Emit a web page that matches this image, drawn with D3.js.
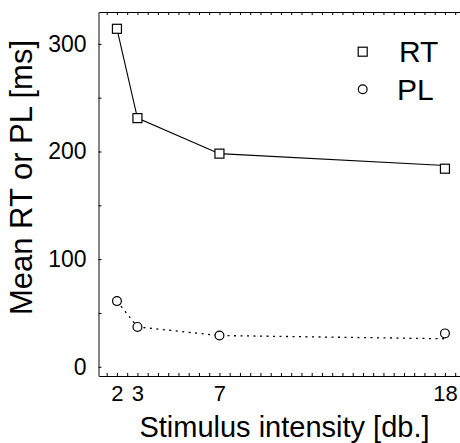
<!DOCTYPE html>
<html>
<head>
<meta charset="utf-8">
<script src="https://cdn.jsdelivr.net/npm/d3@7"></script>
<style>
  body { margin: 0; background: #fff; }
  svg { display: block; font-family: "Liberation Sans", Arial, sans-serif; }
</style>
</head>
<body>
<div id="chart"></div>
<script>
// stimulus intensities (db.)
const intensities = [2, 3, 7, 18];
// marker values (ms)
const rtMarks = [314, 231, 198, 184];
const plMarks = [61, 37, 29, 31];
// connecting lines (end points drawn slightly off the last markers in the original)
const rtLine = [314, 231, 198, 187];
const plLine = [61, 37, 29, 26];
const xTickLabels = [2, 3, 7, 18];
const yTickLabels = [0, 100, 200, 300];
const legendItems = ["RT", "PL"];

const W = 460, H = 443;
const svg = d3.select("#chart").append("svg").attr("width", W).attr("height", H);
svg.append("rect").attr("width", W).attr("height", H).attr("fill", "#fff");

// plot box, right edge runs past the image
const boxLeft = 98.5, boxTop = 12, boxBottom = 376;
const x = d3.scaleLinear().domain([1.1, 19]).range([boxLeft, boxLeft + 17.9 * 20.5]);
const y = d3.scaleLinear().domain([-8.6, 329.6]).range([boxBottom, boxTop]);

const minorX = d3.range(1.5, 19.01, 0.5);

// top axis, ticks pointing in
svg.append("g").attr("transform", `translate(0,${boxTop})`)
  .call(d3.axisTop(x).tickValues(minorX).tickSize(-3).tickSizeOuter(0).tickFormat(""))
  .call(g => g.selectAll("line,path").attr("stroke", "#000"));

// bottom axis
svg.append("g").attr("transform", `translate(0,${boxBottom})`)
  .call(d3.axisBottom(x).tickValues(minorX).tickSize(-3).tickSizeOuter(0).tickFormat(""))
  .call(g => g.selectAll("line,path").attr("stroke", "#000"));

svg.append("g").attr("transform", `translate(0,${boxBottom})`)
  .call(d3.axisBottom(x).tickValues(xTickLabels).tickSize(0).tickPadding(9))
  .call(g => g.select(".domain").remove())
  .call(g => g.selectAll("text").attr("font-size", 22).attr("font-family", null).attr("fill", "#000"));

// left axis
svg.append("g").attr("transform", `translate(${boxLeft},0)`)
  .call(d3.axisLeft(y).tickValues(d3.range(0, 301, 50)).tickSize(-3).tickSizeOuter(0).tickPadding(12)
    .tickFormat(d => yTickLabels.includes(d) ? d : ""))
  .call(g => g.select(".domain").attr("stroke", "#666").attr("stroke-width", 1.6))
  .call(g => g.selectAll(".tick line").attr("stroke", "#000"))
  .call(g => g.selectAll("text").attr("font-size", 23).attr("font-family", null).attr("fill", "#000"));

// lines
const line = d3.line().x((d, i) => x(intensities[i])).y(d => y(d));
svg.append("path").datum(rtLine).attr("d", line)
  .attr("fill", "none").attr("stroke", "#000").attr("stroke-width", 1.1);
svg.append("path").datum(plLine).attr("d", line)
  .attr("fill", "none").attr("stroke", "#000").attr("stroke-width", 1.3)
  .attr("stroke-dasharray", "2,4.5");

// markers
const s = 9;
svg.append("g").selectAll("rect").data(rtMarks).join("rect")
  .attr("x", (d, i) => x(intensities[i]) - s / 2)
  .attr("y", d => y(d) - s / 2)
  .attr("width", s).attr("height", s)
  .attr("fill", "#fff").attr("stroke", "#000").attr("stroke-width", 1.2);
svg.append("g").selectAll("circle").data(plMarks).join("circle")
  .attr("cx", (d, i) => x(intensities[i]))
  .attr("cy", d => y(d))
  .attr("r", 4.4)
  .attr("fill", "#fff").attr("stroke", "#000").attr("stroke-width", 1.2);

// legend
const lg = svg.append("g");
lg.append("rect").attr("x", 362.7 - 4.5).attr("y", 51.7 - 4.5).attr("width", 9).attr("height", 9)
  .attr("fill", "#fff").attr("stroke", "#000").attr("stroke-width", 1.2);
lg.append("circle").attr("cx", 362.7).attr("cy", 89.3).attr("r", 4.4)
  .attr("fill", "#fff").attr("stroke", "#000").attr("stroke-width", 1.2);
lg.selectAll("text").data(legendItems).join("text")
  .attr("x", (d, i) => i ? 397 : 399)
  .attr("y", (d, i) => i ? 100 : 62)
  .attr("font-size", 30).attr("fill", "#000")
  .text(d => d);

// axis titles
svg.append("text").attr("x", 284.5).attr("y", 437).attr("text-anchor", "middle")
  .attr("font-size", 29).text("Stimulus intensity [db.]");
svg.append("text").attr("transform", "translate(32,177.5) rotate(-90)")
  .attr("text-anchor", "middle").attr("font-size", 31).text("Mean RT or PL [ms]");
</script>
</body>
</html>
